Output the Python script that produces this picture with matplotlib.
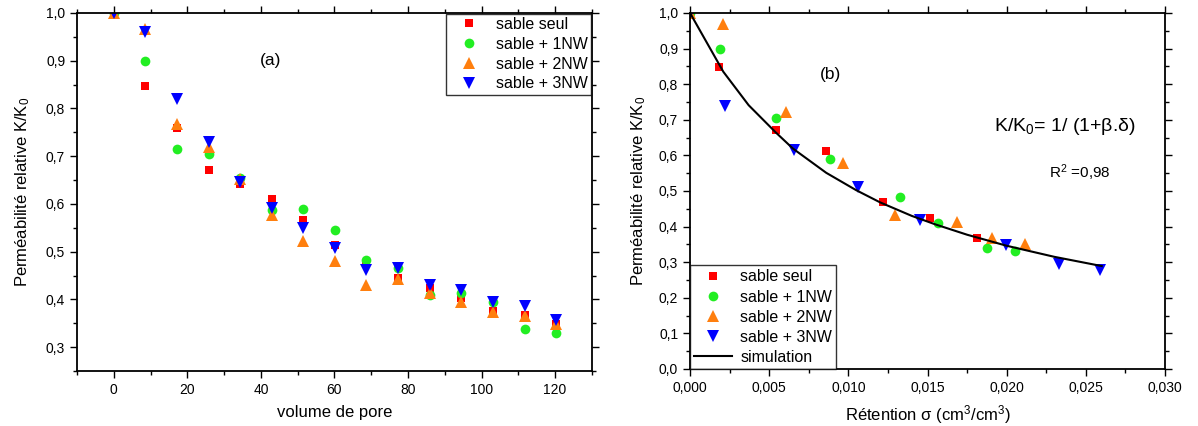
import matplotlib
matplotlib.use("Agg")
import matplotlib.pyplot as plt
from matplotlib.ticker import MultipleLocator, FuncFormatter

plt.rcParams["font.family"] = ["Liberation Sans", "DejaVu Sans"]
plt.rcParams["mathtext.fontset"] = "custom"
plt.rcParams["mathtext.rm"] = "Liberation Sans"
plt.rcParams["mathtext.it"] = "Liberation Sans"

# ── données (a) : perméabilité vs volume de pore ──────────────────────────────
vp = [0, 8.6, 17.2, 25.8, 34.4, 42.9, 51.5, 60.1, 68.7, 77.3, 85.9, 94.5, 103.1, 111.7, 120.3]
k_seul = [1.0, 0.848, 0.759, 0.672, 0.641, 0.611, 0.566, 0.515, 0.475, 0.444, 0.425, 0.402, 0.375, 0.367, 0.348]
k_1nw = [1.0, 0.900, 0.715, 0.705, 0.654, 0.587, 0.589, 0.545, 0.482, 0.466, 0.410, 0.413, 0.394, 0.339, 0.329]
k_2nw = [1.0, 0.966, 0.768, 0.720, 0.653, 0.577, 0.522, 0.481, 0.431, 0.443, 0.413, 0.395, 0.374, 0.366, 0.349]
k_3nw = [1.0, 0.961, 0.820, 0.729, 0.645, 0.591, 0.550, 0.508, 0.462, 0.465, 0.430, 0.420, 0.395, 0.386, 0.357]

# ── données (b) : perméabilité vs rétention ───────────────────────────────────
sig_seul = [0.0, 0.00185, 0.0054, 0.0086, 0.01217, 0.01513, 0.01814]
kb_seul = [1.0, 0.849, 0.672, 0.612, 0.470, 0.423, 0.369]
sig_1nw = [0.0, 0.0019, 0.00546, 0.00884, 0.01325, 0.01565, 0.01873, 0.02055]
kb_1nw = [1.0, 0.900, 0.706, 0.589, 0.483, 0.411, 0.341, 0.330]
sig_2nw = [0.0, 0.0021, 0.00603, 0.00966, 0.01293, 0.01684, 0.01907, 0.02118]
kb_2nw = [1.0, 0.969, 0.723, 0.579, 0.433, 0.412, 0.369, 0.351]
sig_3nw = [0.0, 0.0022, 0.00654, 0.0106, 0.01451, 0.01994, 0.0233, 0.0259]
kb_3nw = [1.0, 0.739, 0.615, 0.512, 0.419, 0.348, 0.296, 0.278]

sig_sim = [0.0, 0.0021, 0.0037, 0.0054, 0.0065, 0.0086, 0.0105, 0.012, 0.014, 0.0155, 0.0175, 0.020, 0.023, 0.026]
k_sim = [1.0, 0.835, 0.741, 0.665, 0.619, 0.551, 0.502, 0.468, 0.430, 0.406, 0.377, 0.346, 0.315, 0.289]

LABELS = ["sable seul", "sable + 1NW", "sable + 2NW", "sable + 3NW"]
COLORS = ["#FF0000", "#22EE22", "#FF7F0E", "#0000FF"]
MARKERS = ["s", "o", "^", "v"]
SIZES = [6, 7, 8, 8]


def comma(fmt):
    return FuncFormatter(lambda v, p: (fmt % v).replace(".", ","))


def style_axes(ax):
    for s in ax.spines.values():
        s.set_linewidth(1.3)
    ax.tick_params(which="both", direction="out", top=True, right=True,
                   labeltop=False, labelright=False, labelsize=10, width=1)
    ax.tick_params(which="major", length=5)
    ax.tick_params(which="minor", length=3)


fig = plt.figure(figsize=(11.98, 4.26), dpi=100)
ax1 = fig.add_axes([0.0643, 0.129, 0.4297, 0.8405])
ax2 = fig.add_axes([0.576, 0.134, 0.3965, 0.8355])

# (a)
for ys, lab, c, m, ms in zip([k_seul, k_1nw, k_2nw, k_3nw], LABELS, COLORS, MARKERS, SIZES):
    ax1.plot(vp, ys, linestyle="none", marker=m, color=c, markersize=ms,
             markeredgewidth=0, label=lab)
ax1.set_xlim(-10, 130)
ax1.set_ylim(0.25, 1.0)
ax1.xaxis.set_major_locator(MultipleLocator(20))
ax1.xaxis.set_minor_locator(MultipleLocator(10))
ax1.yaxis.set_major_locator(MultipleLocator(0.1))
ax1.yaxis.set_minor_locator(MultipleLocator(0.05))
ax1.yaxis.set_major_formatter(comma("%.1f"))
style_axes(ax1)
ax1.set_xlabel("volume de pore", fontsize=12, labelpad=6)
ax1.set_ylabel("Perméabilité relative K/K$_0$", fontsize=12, labelpad=10)
ax1.text(0.375, 0.868, "(a)", transform=ax1.transAxes, fontsize=12.5, ha="center", va="center")
leg1 = ax1.legend(loc="upper right", fontsize=11.5, frameon=True, fancybox=False,
                  edgecolor="black", borderpad=0.2, labelspacing=0.3,
                  handletextpad=0.5, borderaxespad=0.05, handlelength=2.4)
leg1.get_frame().set_linewidth(1.0)

# (b)
for xs, ys, lab, c, m, ms in zip([sig_seul, sig_1nw, sig_2nw, sig_3nw],
                                 [kb_seul, kb_1nw, kb_2nw, kb_3nw],
                                 LABELS, COLORS, MARKERS, SIZES):
    ax2.plot(xs, ys, linestyle="none", marker=m, color=c, markersize=ms,
             markeredgewidth=0, label=lab)
ax2.plot(sig_sim, k_sim, color="black", linewidth=1.5, label="simulation")
ax2.set_xlim(0, 0.030)
ax2.set_ylim(0, 1.0)
ax2.xaxis.set_major_locator(MultipleLocator(0.005))
ax2.xaxis.set_minor_locator(MultipleLocator(0.0025))
ax2.yaxis.set_major_locator(MultipleLocator(0.1))
ax2.yaxis.set_minor_locator(MultipleLocator(0.05))
ax2.xaxis.set_major_formatter(comma("%.3f"))
ax2.yaxis.set_major_formatter(comma("%.1f"))
style_axes(ax2)
ax2.set_xlabel("Rétention σ (cm$^3$/cm$^3$)", fontsize=12, labelpad=6)
ax2.set_ylabel("Perméabilité relative K/K$_0$", fontsize=12, labelpad=8)
ax2.text(0.295, 0.826, "(b)", transform=ax2.transAxes, fontsize=12.5, ha="center", va="center")
ax2.text(0.79, 0.68, "K/K$_0$= 1/ (1+β.δ)", transform=ax2.transAxes, fontsize=14,
         ha="center", va="center")
ax2.text(0.82, 0.55, "R$^2$ =0,98", transform=ax2.transAxes, fontsize=11,
         ha="center", va="center")
leg2 = ax2.legend(loc="lower left", fontsize=11.5, frameon=True, fancybox=False,
                  edgecolor="black", borderpad=0.25, labelspacing=0.32,
                  handletextpad=0.5, borderaxespad=0.0, handlelength=2.4)
leg2.get_frame().set_linewidth(1.0)

fig.savefig("out.png", dpi=100)
